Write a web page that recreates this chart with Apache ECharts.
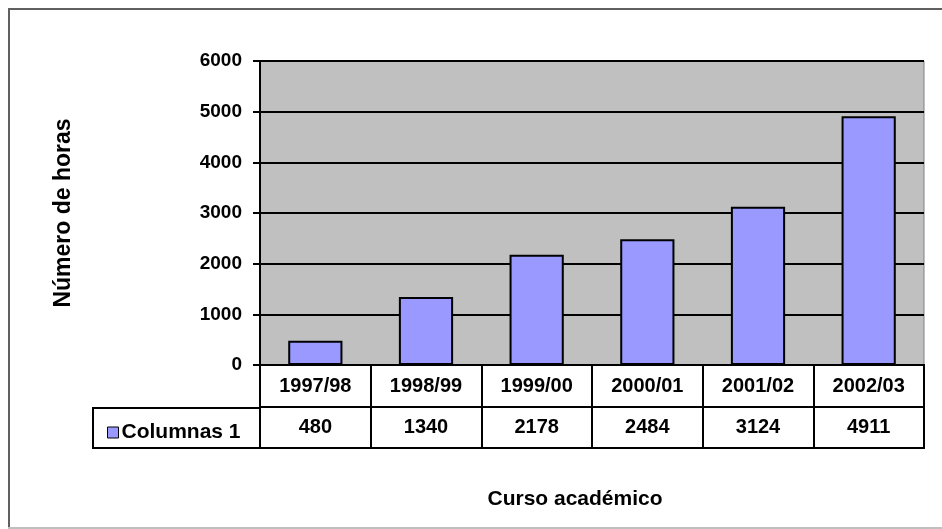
<!DOCTYPE html>
<html><head><meta charset="utf-8">
<script src="https://cdn.jsdelivr.net/npm/echarts@6/dist/echarts.min.js"></script>
<style>html,body{margin:0;padding:0;background:#fff;}#c{width:942px;height:529px;}</style>
</head><body><div id="c"></div>
<script>
var categories = ['1997/98','1998/99','1999/00','2000/01','2001/02','2002/03'];
var values = [480, 1340, 2178, 2484, 3124, 4911];
var seriesName = 'Columnas 1';
var yTicks = [0, 1000, 2000, 3000, 4000, 5000, 6000];

var FONT = '"Liberation Sans", Arial, sans-serif';
var chart = echarts.init(document.getElementById('c'), null, {renderer:'canvas'});
chart.setOption({
  animation: false,
  backgroundColor: '#fff',
  textStyle: {fontFamily: FONT},
  grid: [
    {left: 260, top: 61, right: 18, bottom: 164, show: true, backgroundColor: '#c0c0c0', borderColor: '#808080', borderWidth: 1},
    {left: 260, top: 365, right: 18, bottom: 81, show: true, backgroundColor: '#fff', borderColor: '#000', borderWidth: 2}
  ],
  legend: {
    data: [seriesName], left: 102, top: 417, icon: 'rect', itemWidth: 11, itemHeight: 11, itemGap: 5,
    selectedMode: false,
    itemStyle: {borderColor: '#000', borderWidth: 1},
    textStyle: {fontFamily: FONT, fontWeight: 'bold', fontSize: 21, color: '#000', padding: [0,0,0,-2]}
  },
  xAxis: [
    {type: 'category', gridIndex: 0, data: categories, boundaryGap: true,
     axisLine: {show: true, lineStyle: {color: '#000', width: 2}}, axisTick: {show: false},
     axisLabel: {show: true, margin: 11, fontFamily: FONT, fontWeight: 'bold', fontSize: 20, color: '#000', interval: 0},
     name: 'Curso académico', nameLocation: 'middle', nameGap: 124,
     nameTextStyle: {fontFamily: FONT, fontWeight: 'bold', fontSize: 21, color: '#000', padding: [0, 34, 0, 0]}},
    {type: 'category', gridIndex: 1, data: categories, boundaryGap: true,
     axisLine: {show: false}, axisTick: {show: false}, axisLabel: {show: false},
     splitLine: {show: true, interval: 0, lineStyle: {color: '#000', width: 2}}}
  ],
  yAxis: [
    {type: 'value', gridIndex: 0, min: 0, max: 6000, interval: 1000,
     axisLine: {show: true, lineStyle: {color: '#000', width: 2}},
     axisTick: {show: true, inside: false, length: 7, lineStyle: {color: '#000', width: 2}},
     axisLabel: {margin: 18, fontFamily: FONT, fontWeight: 'bold', fontSize: 19, color: '#000',
       formatter: function(v){ return yTicks.indexOf(v) >= 0 ? String(v) : ''; }},
     splitLine: {show: true, lineStyle: {color: '#000', width: 2}},
     name: 'Número de horas', nameLocation: 'middle', nameGap: 185,
     nameTextStyle: {fontFamily: FONT, fontWeight: 'bold', fontSize: 23, color: '#000'}},
    {type: 'value', gridIndex: 1, min: 0, max: 2, interval: 1,
     axisLine: {show: false}, axisTick: {show: false}, axisLabel: {show: false},
     splitLine: {show: true, lineStyle: {color: '#000', width: 2}}}
  ],
  series: [
    {name: seriesName, type: 'bar', xAxisIndex: 0, yAxisIndex: 0, data: values, barWidth: '49%',
     itemStyle: {color: '#9999ff', borderColor: '#000', borderWidth: 2}},
    {name: 'table', type: 'scatter', xAxisIndex: 1, yAxisIndex: 1, symbolSize: 1,
     data: values.map(function(v, i){ return [i, 0.5, v]; }),
     itemStyle: {color: '#ffffff'}, silent: true,
     label: {show: true, position: 'inside', formatter: function(p){ return String(p.value[2]); },
       fontFamily: FONT, fontWeight: 'bold', fontSize: 20, color: '#000000', textBorderWidth: 0, opacity: 1}}
  ],
  graphic: [
    {type: 'rect', shape: {x: 93, y: 408, width: 167, height: 40}, style: {fill: 'none', stroke: '#000', lineWidth: 2}, z: 10},
    {type: 'line', shape: {x1: 8, y1: 9, x2: 942, y2: 9}, style: {stroke: '#606060', lineWidth: 2}},
    {type: 'line', shape: {x1: 9, y1: 8, x2: 9, y2: 529}, style: {stroke: '#606060', lineWidth: 2}},
    {type: 'line', shape: {x1: 8, y1: 528, x2: 942, y2: 528}, style: {stroke: '#c0c0c0', lineWidth: 2}}
  ]
});
</script></body></html>
